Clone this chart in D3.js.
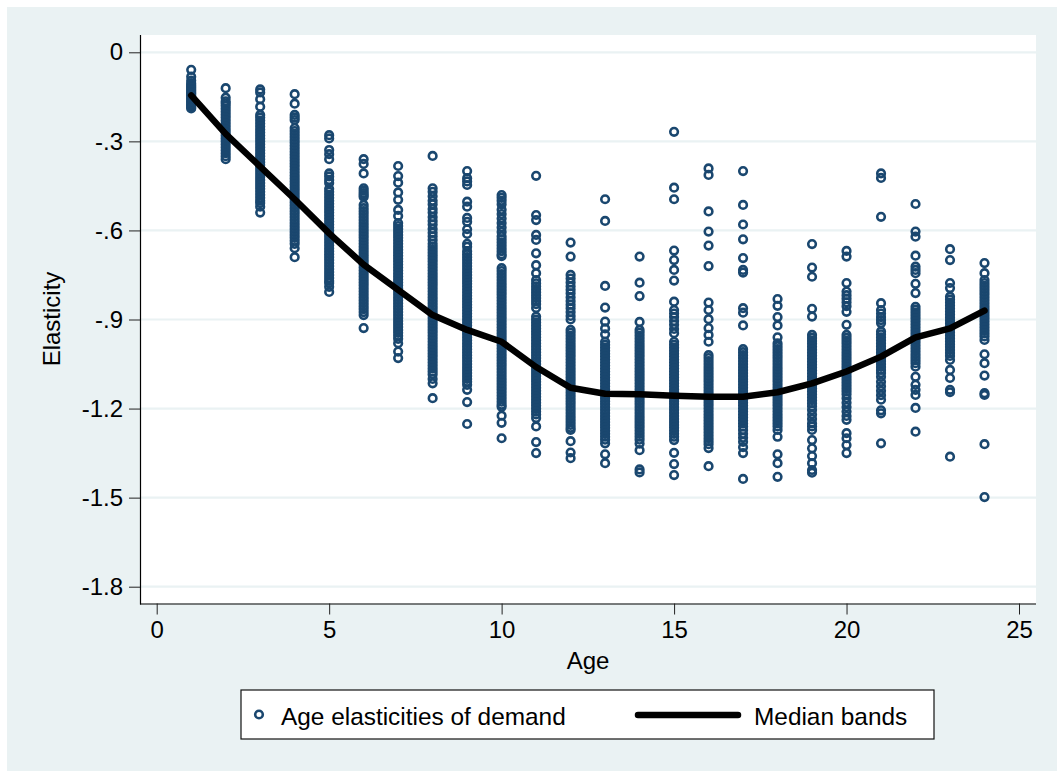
<!DOCTYPE html>
<html><head><meta charset="utf-8">
<script src="https://cdnjs.cloudflare.com/ajax/libs/d3/7.8.5/d3.min.js"></script>
<style>html,body{margin:0;padding:0;background:#fff}svg{display:block}text{font-family:"Liberation Sans",Arial,sans-serif;fill:#000}</style>
</head><body><svg id="c" width="1057" height="771"></svg>
<script>
const xTicks=[0,5,10,15,20,25];
const yTicks=[0,-.3,-.6,-.9,-1.2,-1.5,-1.8];
const yTickLabels=["0","-.3","-.6","-.9","-1.2","-1.5","-1.8"];
const xTitle="Age", yTitle="Elasticity";
const legendLabels=["Age elasticities of demand","Median bands"];
const medianAges=[1,2,3,4,5,6,7,8,9,10,11,12,13,14,15,16,17,18,19,20,21,22,23,24];
const medianBands=[-.145,-.275,-.385,-.495,-.61,-.715,-.80,-.885,-.935,-.975,-1.06,-1.13,-1.15,-1.152,-1.157,-1.16,-1.16,-1.145,-1.115,-1.075,-1.025,-.96,-.93,-.87];
const age1=[-.059,-.082,-.095,-.104,-.11,-.115,-.12,-.125,-.13,-.135,-.14,-.145,-.15,-.155,-.16,-.165,-.17,-.175,-.18,-.185,-.189];
const age2=[-.121,-.153,-.165,-.172,-.18,-.19,-.2,-.21,-.22,-.23,-.24,-.25,-.26,-.27,-.28,-.29,-.3,-.31,-.32,-.33,-.34,-.35,-.36];
const age3=[-.125,-.135,-.158,-.183,-.211,-.22,-.23,-.24,-.25,-.26,-.27,-.28,-.29,-.3,-.31,-.32,-.33,-.34,-.35,-.36,-.37,-.38,-.39,-.4,-.41,-.42,-.43,-.44,-.45,-.46,-.47,-.48,-.49,-.5,-.508,-.52,-.54];
const age4=[-.141,-.173,-.211,-.22,-.228,-.255,-.265,-.275,-.285,-.295,-.305,-.315,-.325,-.335,-.345,-.355,-.365,-.375,-.385,-.395,-.405,-.415,-.425,-.435,-.445,-.455,-.465,-.475,-.485,-.495,-.505,-.515,-.525,-.535,-.545,-.555,-.565,-.575,-.585,-.595,-.605,-.615,-.625,-.635,-.645,-.66,-.69];
const age5=[-.279,-.29,-.329,-.343,-.36,-.408,-.418,-.43,-.44,-.46,-.47,-.48,-.49,-.5,-.51,-.52,-.53,-.54,-.55,-.56,-.57,-.58,-.59,-.6,-.61,-.62,-.63,-.64,-.65,-.66,-.67,-.68,-.69,-.7,-.71,-.72,-.73,-.74,-.75,-.76,-.77,-.777,-.79,-.807];
const age6=[-.36,-.376,-.408,-.458,-.466,-.474,-.481,-.487,-.514,-.525,-.535,-.545,-.555,-.565,-.575,-.585,-.595,-.605,-.615,-.625,-.635,-.645,-.655,-.665,-.675,-.685,-.695,-.705,-.715,-.725,-.735,-.745,-.755,-.765,-.775,-.785,-.795,-.805,-.815,-.825,-.835,-.845,-.855,-.865,-.875,-.885,-.929];
const age7=[-.383,-.417,-.439,-.472,-.497,-.531,-.551,-.575,-.585,-.595,-.605,-.615,-.625,-.635,-.645,-.655,-.665,-.675,-.685,-.695,-.705,-.715,-.725,-.735,-.745,-.755,-.765,-.775,-.785,-.795,-.805,-.815,-.825,-.835,-.845,-.855,-.865,-.875,-.885,-.895,-.905,-.915,-.925,-.935,-.945,-.955,-.965,-.98,-1.008,-1.03];
const age8=[-.349,-.458,-.47,-.485,-.5,-.512,-.528,-.54,-.555,-.568,-.58,-.595,-.608,-.62,-.632,-.645,-.655,-.665,-.675,-.685,-.695,-.705,-.715,-.725,-.735,-.745,-.755,-.765,-.775,-.785,-.795,-.805,-.815,-.825,-.835,-.845,-.855,-.865,-.875,-.885,-.895,-.905,-.915,-.925,-.935,-.945,-.955,-.965,-.975,-.985,-.995,-1.005,-1.015,-1.025,-1.035,-1.045,-1.055,-1.065,-1.075,-1.085,-1.1,-1.115,-1.165];
const age9=[-.40,-.424,-.435,-.447,-.503,-.52,-.558,-.571,-.596,-.612,-.645,-.655,-.67,-.68,-.69,-.70,-.71,-.72,-.73,-.74,-.75,-.76,-.77,-.78,-.79,-.80,-.81,-.82,-.83,-.84,-.85,-.86,-.87,-.88,-.89,-.90,-.91,-.92,-.93,-.94,-.95,-.96,-.97,-.98,-.99,-1.0,-1.01,-1.02,-1.03,-1.04,-1.05,-1.06,-1.07,-1.08,-1.09,-1.10,-1.11,-1.12,-1.137,-1.178,-1.252];
const age10=[-.481,-.49,-.5,-.512,-.53,-.545,-.56,-.575,-.59,-.605,-.62,-.63,-.64,-.65,-.66,-.67,-.68,-.687,-.727,-.737,-.747,-.757,-.767,-.777,-.787,-.797,-.807,-.817,-.827,-.837,-.847,-.857,-.867,-.877,-.887,-.897,-.907,-.917,-.927,-.937,-.947,-.957,-.967,-.977,-.987,-.997,-1.007,-1.017,-1.027,-1.037,-1.047,-1.057,-1.067,-1.077,-1.087,-1.097,-1.107,-1.117,-1.127,-1.137,-1.147,-1.157,-1.167,-1.177,-1.187,-1.194,-1.224,-1.248,-1.30];
const age11=[-.416,-.548,-.565,-.615,-.632,-.677,-.717,-.744,-.767,-.778,-.788,-.798,-.808,-.818,-.828,-.838,-.848,-.861,-.89,-.90,-.91,-.92,-.93,-.94,-.95,-.96,-.97,-.98,-.99,-1.0,-1.01,-1.02,-1.03,-1.04,-1.05,-1.06,-1.07,-1.08,-1.09,-1.10,-1.11,-1.12,-1.13,-1.14,-1.15,-1.16,-1.17,-1.18,-1.19,-1.20,-1.21,-1.22,-1.232,-1.26,-1.313,-1.35];
const age12=[-.641,-.688,-.75,-.762,-.775,-.788,-.80,-.812,-.825,-.838,-.85,-.862,-.875,-.888,-.90,-.935,-.945,-.955,-.965,-.975,-.985,-.995,-1.005,-1.015,-1.025,-1.035,-1.045,-1.055,-1.065,-1.075,-1.085,-1.095,-1.105,-1.115,-1.125,-1.135,-1.145,-1.155,-1.165,-1.175,-1.185,-1.195,-1.205,-1.215,-1.225,-1.235,-1.245,-1.255,-1.265,-1.272,-1.31,-1.348,-1.367];
const age13=[-.495,-.568,-.787,-.86,-.907,-.93,-.95,-.975,-.985,-.995,-1.005,-1.015,-1.025,-1.035,-1.045,-1.055,-1.065,-1.075,-1.085,-1.095,-1.105,-1.115,-1.125,-1.135,-1.145,-1.155,-1.165,-1.175,-1.185,-1.195,-1.205,-1.215,-1.225,-1.235,-1.245,-1.255,-1.265,-1.275,-1.285,-1.295,-1.305,-1.317,-1.354,-1.384];
const age14=[-.688,-.776,-.821,-.908,-.935,-.945,-.955,-.965,-.975,-.985,-.995,-1.005,-1.015,-1.025,-1.035,-1.045,-1.055,-1.065,-1.075,-1.085,-1.095,-1.105,-1.115,-1.125,-1.135,-1.145,-1.155,-1.165,-1.175,-1.185,-1.195,-1.205,-1.215,-1.225,-1.235,-1.245,-1.255,-1.265,-1.275,-1.285,-1.295,-1.305,-1.318,-1.34,-1.405,-1.415];
const age15=[-.268,-.456,-.495,-.668,-.70,-.733,-.769,-.84,-.868,-.88,-.892,-.905,-.918,-.932,-.946,-.975,-.985,-.995,-1.005,-1.015,-1.025,-1.035,-1.045,-1.055,-1.065,-1.075,-1.085,-1.095,-1.105,-1.115,-1.125,-1.135,-1.145,-1.155,-1.165,-1.175,-1.185,-1.195,-1.205,-1.215,-1.225,-1.235,-1.245,-1.255,-1.265,-1.275,-1.285,-1.295,-1.306,-1.349,-1.387,-1.424];
const age16=[-.391,-.413,-.536,-.604,-.651,-.72,-.843,-.868,-.899,-.929,-.952,-.975,-1.02,-1.03,-1.04,-1.05,-1.06,-1.07,-1.08,-1.09,-1.10,-1.11,-1.12,-1.13,-1.14,-1.15,-1.16,-1.17,-1.18,-1.19,-1.20,-1.21,-1.22,-1.23,-1.24,-1.25,-1.26,-1.27,-1.28,-1.29,-1.30,-1.31,-1.32,-1.333,-1.394];
const age17=[-.40,-.514,-.58,-.63,-.693,-.733,-.742,-.862,-.877,-.92,-1.0,-1.01,-1.02,-1.03,-1.04,-1.05,-1.06,-1.07,-1.08,-1.09,-1.10,-1.11,-1.12,-1.13,-1.14,-1.15,-1.16,-1.17,-1.18,-1.19,-1.20,-1.21,-1.22,-1.23,-1.24,-1.25,-1.26,-1.272,-1.285,-1.298,-1.312,-1.33,-1.35,-1.437];
const age18=[-.831,-.854,-.892,-.92,-.96,-.98,-.99,-1.0,-1.01,-1.02,-1.03,-1.04,-1.05,-1.06,-1.07,-1.08,-1.09,-1.10,-1.11,-1.12,-1.13,-1.14,-1.15,-1.16,-1.17,-1.18,-1.19,-1.20,-1.21,-1.22,-1.23,-1.24,-1.25,-1.26,-1.272,-1.295,-1.354,-1.384,-1.43];
const age19=[-.646,-.725,-.756,-.864,-.89,-.952,-.962,-.972,-.982,-.992,-1.002,-1.012,-1.022,-1.032,-1.042,-1.052,-1.062,-1.072,-1.082,-1.092,-1.102,-1.112,-1.122,-1.132,-1.142,-1.152,-1.162,-1.172,-1.182,-1.192,-1.205,-1.22,-1.235,-1.25,-1.26,-1.272,-1.306,-1.334,-1.36,-1.384,-1.407,-1.416];
const age20=[-.669,-.688,-.777,-.806,-.818,-.83,-.842,-.855,-.874,-.918,-.952,-.962,-.972,-.982,-.992,-1.002,-1.012,-1.022,-1.032,-1.042,-1.052,-1.062,-1.072,-1.082,-1.092,-1.102,-1.112,-1.122,-1.132,-1.142,-1.152,-1.165,-1.18,-1.195,-1.21,-1.225,-1.238,-1.283,-1.30,-1.323,-1.35];
const age21=[-.408,-.423,-.554,-.845,-.868,-.88,-.892,-.902,-.912,-.94,-.95,-.96,-.97,-.98,-.99,-1.0,-1.01,-1.02,-1.03,-1.04,-1.05,-1.06,-1.07,-1.08,-1.093,-1.11,-1.125,-1.14,-1.155,-1.17,-1.206,-1.216,-1.317];
const age22=[-.511,-.604,-.621,-.685,-.722,-.733,-.744,-.78,-.811,-.857,-.867,-.877,-.887,-.897,-.907,-.917,-.927,-.937,-.947,-.957,-.967,-.977,-.987,-.997,-1.007,-1.017,-1.027,-1.037,-1.047,-1.059,-1.093,-1.12,-1.137,-1.154,-1.198,-1.278];
const age23=[-.663,-.70,-.777,-.794,-.823,-.833,-.843,-.853,-.863,-.873,-.883,-.893,-.903,-.913,-.923,-.933,-.943,-.953,-.963,-.973,-.983,-.993,-1.003,-1.013,-1.023,-1.036,-1.07,-1.097,-1.137,-1.145,-1.362];
const age24=[-.71,-.744,-.767,-.777,-.787,-.797,-.807,-.817,-.827,-.837,-.847,-.857,-.867,-.877,-.887,-.897,-.907,-.917,-.927,-.937,-.947,-.957,-.969,-1.017,-1.047,-1.089,-1.148,-1.154,-1.32,-1.498];
const ageSeries=[age1,age2,age3,age4,age5,age6,age7,age8,age9,age10,age11,age12,age13,age14,age15,age16,age17,age18,age19,age20,age21,age22,age23,age24];

const bg="#eaf2f3", blue="#1a476f";
const svg=d3.select("#c");
svg.append("rect").attr("x",7).attr("y",7).attr("width",1050).attr("height",764).attr("fill",bg);
const L=140,R=1036,T=35,B=603.5;
svg.append("rect").attr("x",L).attr("y",T).attr("width",R-L).attr("height",B-T).attr("fill","#fff");
const x=d3.scaleLinear().domain([0,25]).range([156.7,1019]);
const y=d3.scaleLinear().domain([0,-1.8]).range([52.3,586.7]);

svg.append("g").selectAll("line").data(yTicks).join("line")
 .attr("x1",L).attr("x2",R).attr("y1",d=>y(d)).attr("y2",d=>y(d))
 .attr("stroke",bg).attr("stroke-width",2.2);

const pts=ageSeries.flatMap((vals,i)=>vals.map(v=>({a:i+1,v})));
const ringR=3.8, ringW=2.6;
svg.append("g").selectAll("circle").data(pts).join("circle")
 .attr("cx",d=>x(d.a)).attr("cy",d=>y(d.v)).attr("r",ringR)
 .attr("fill","none").attr("stroke",blue).attr("stroke-width",ringW);

const line=d3.line().x((d,i)=>x(medianAges[i])).y(d=>y(d));
svg.append("path").attr("d",line(medianBands)).attr("fill","none")
 .attr("stroke","#000").attr("stroke-width",6.5).attr("stroke-linecap","round").attr("stroke-linejoin","round");

const ax=d3.axisBottom(x).tickValues(xTicks).tickSize(11).tickPadding(6).tickFormat(d3.format("d"));
const gx=svg.append("g").attr("transform",`translate(0,${B})`).call(ax);
gx.select(".domain").attr("d",`M${L},0.5H${R}`).attr("stroke","#000").attr("stroke-width",1.2);
gx.selectAll("line").attr("stroke","#222").attr("stroke-width",1);
gx.selectAll("text").attr("font-size",24).attr("font-family",'"Liberation Sans",Arial,sans-serif');

const ay=d3.axisLeft(y).tickValues(yTicks).tickSize(11).tickPadding(6).tickFormat((d,i)=>yTickLabels[i]);
const gy=svg.append("g").attr("transform",`translate(${L},0)`).call(ay);
gy.select(".domain").attr("d",`M0.5,${T}V${B+1}`).attr("stroke","#000").attr("stroke-width",1.2);
gy.selectAll("line").attr("stroke","#222").attr("stroke-width",1);
gy.selectAll("text").attr("font-size",24).attr("font-family",'"Liberation Sans",Arial,sans-serif');

svg.append("text").attr("x",588).attr("y",669).attr("text-anchor","middle").attr("font-size",24).text(xTitle);
svg.append("text").attr("transform","translate(60,319) rotate(-90)").attr("text-anchor","middle").attr("font-size",24).text(yTitle);

const lg=svg.append("g");
lg.append("rect").attr("x",241).attr("y",690).attr("width",693).attr("height",49).attr("fill","#fff").attr("stroke","#111").attr("stroke-width",1.2);
lg.append("circle").attr("cx",259).attr("cy",714.5).attr("r",ringR).attr("fill","none").attr("stroke",blue).attr("stroke-width",ringW);
lg.append("text").attr("x",281).attr("y",725).attr("font-size",24.4).text(legendLabels[0]);
lg.append("line").attr("x1",638).attr("x2",738).attr("y1",715).attr("y2",715).attr("stroke","#000").attr("stroke-width",6.5).attr("stroke-linecap","round");
lg.append("text").attr("x",754).attr("y",725).attr("font-size",24.4).text(legendLabels[1]);
</script></body></html>
